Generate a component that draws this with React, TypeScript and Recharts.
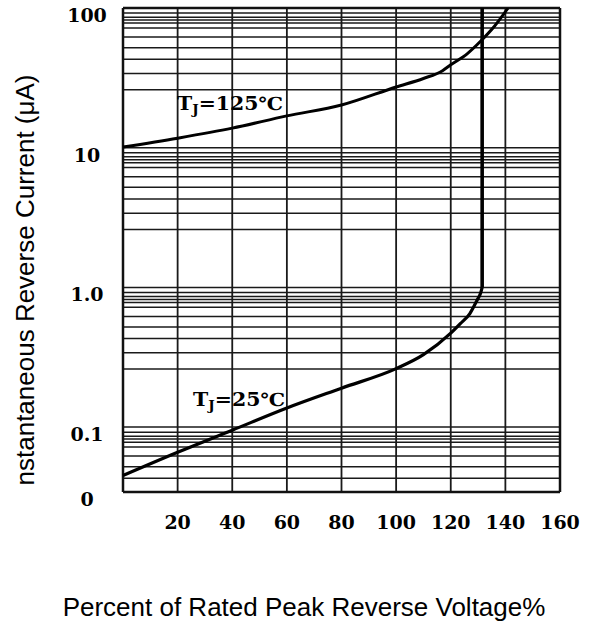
import { ComposedChart, Line, ReferenceLine, XAxis, YAxis } from 'recharts'

// percent of rated peak reverse voltage
const hotX = [0, 20, 40, 60, 80, 100, 110, 117, 120, 126, 131, 136, 141]
const hotY = [10.1, 11.7, 13.8, 16.9, 20.2, 27.2, 31.3, 35.6, 39.2, 47, 58, 74, 100]

const roomX = [0, 20, 40, 60, 80, 100, 110, 120, 123.5, 127, 129.5, 131, 131.5]
const roomY = [0.045, 0.066, 0.095, 0.137, 0.19, 0.262, 0.33, 0.47, 0.55, 0.65, 0.8, 0.92, 1.0]
// breakdown: the 25 °C curve rises straight up at the knee
const kneeX = 131.5
const kneeTop = 100

const xTicks = [20, 40, 60, 80, 100, 120, 140, 160]
const xGrid = [20, 40, 60, 80, 100, 120, 140]
const yTicks = [0.0343, 0.1, 1, 10, 100]
const yTickLabels = ['0', '0.1', '1.0', '10', '100']
const decades = [100, 10, 1, 0.1]
// the printed grid packs its lines just under each decade line
const gridFactors = [0.92, 0.86, 0.82, 0.78, 0.72, 0.62, 0.52, 0.43, 0.34, 0.26]

const Y_MIN = 0.0343
const Y_MAX = 100

const hotData = hotX.map((x, i) => ({ x, y: hotY[i] }))
const roomData = roomX.map((x, i) => ({ x, y: roomY[i] }))
const kneeData = [roomData[roomData.length - 1], { x: kneeX, y: kneeTop }]
const yGrid = decades.flatMap((d) => [d, ...gridFactors.map((f) => d * f)]).filter((v) => v > Y_MIN && v < Y_MAX)

const tickFont = { fontFamily: '"DejaVu Serif", serif', fontWeight: 700, fontSize: 19, fill: '#000' }

function XTick({ x, y, payload }: any) {
  return <text x={x} y={y + 22} textAnchor="middle" dominantBaseline="central" style={tickFont}>{payload.value}</text>
}

function YTick({ y, payload }: any) {
  const i = yTicks.indexOf(payload.value)
  return <text x={87} y={y + 7} textAnchor="middle" dominantBaseline="central" style={tickFont}>{yTickLabels[i]}</text>
}

export default function App() {
  return <div style={{ position: 'relative', width: 597, height: 625, background: '#fff' }}>
    <style>{'body{margin:0}'}</style>
    <ComposedChart width={597} height={625} margin={{ top: 8, right: 37, bottom: 93, left: 0 }}>
      <XAxis type="number" dataKey="x" domain={[0, 160]} ticks={xTicks} height={40} axisLine={false} tickLine={false} tick={<XTick />} interval={0} />
      <YAxis type="number" scale="log" domain={[Y_MIN, Y_MAX]} ticks={yTicks} width={123} axisLine={false} tickLine={false} tick={<YTick />} allowDataOverflow interval={0} />
      {yGrid.map((v) => <ReferenceLine key={'h' + v} y={v} stroke="#1a1a1a" strokeWidth={1.5} />)}
      {xGrid.map((v) => <ReferenceLine key={'v' + v} x={v} stroke="#1a1a1a" strokeWidth={1.8} />)}
      <ReferenceLine y={Y_MAX} stroke="#111" strokeWidth={2.5} />
      <ReferenceLine y={Y_MIN} stroke="#111" strokeWidth={2.5} />
      <ReferenceLine x={0} stroke="#111" strokeWidth={2.5} />
      <ReferenceLine x={160} stroke="#111" strokeWidth={2.5} />
      <Line data={hotData} dataKey="y" type="monotone" stroke="#000" strokeWidth={3} dot={false} isAnimationActive={false} />
      <Line data={roomData} dataKey="y" type="monotone" stroke="#000" strokeWidth={3.2} dot={false} isAnimationActive={false} />
      <Line data={kneeData} dataKey="y" type="linear" stroke="#000" strokeWidth={3.6} dot={false} isAnimationActive={false} />
    </ComposedChart>
    <svg width={597} height={625} style={{ position: 'absolute', left: 0, top: 0, pointerEvents: 'none' }}>
      <g style={{ fontFamily: '"DejaVu Serif", serif', fontWeight: 700, fontSize: 18, fill: '#000' }}>
        <text x={177} y={110} textLength={106} lengthAdjust="spacingAndGlyphs">T<tspan fontSize={12} dy={4}>J</tspan><tspan dy={-4}>=125℃</tspan></text>
        <text x={193} y={406} textLength={92} lengthAdjust="spacingAndGlyphs">T<tspan fontSize={12} dy={4}>J</tspan><tspan dy={-4}>=25℃</tspan></text>
      </g>
      <g style={{ fontFamily: '"Liberation Sans", Arial, sans-serif', fontSize: 26, fill: '#000' }}>
        <text x={34} y={280} textAnchor="middle" transform="rotate(-90 34 280)">nstantaneous Reverse Current (μA)</text>
        <text x={304} y={616} textAnchor="middle">Percent of Rated Peak Reverse Voltage%</text>
      </g>
    </svg>
  </div>
}
